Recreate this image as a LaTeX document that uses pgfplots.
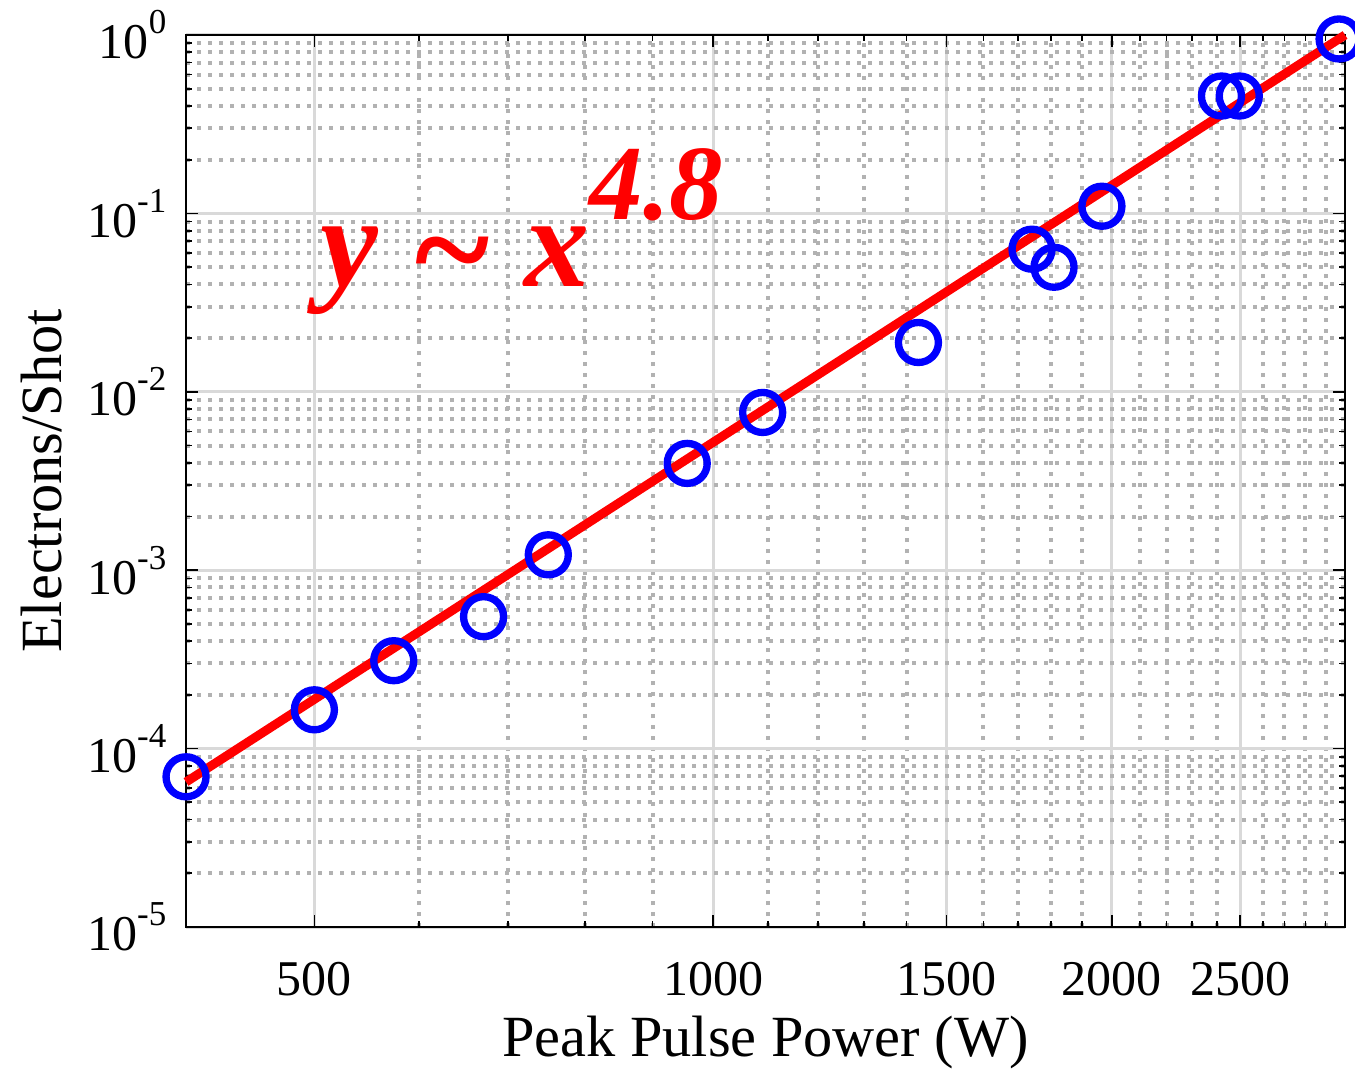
\documentclass[border=0pt]{standalone}
\usepackage{pgfplots}
\pgfplotsset{compat=1.18}
\usepackage{graphicx}
\usepackage{fontspec}
\setmainfont{Liberation Serif}

% power-of-ten tick label set in the text font
\newcommand{\dec}[1]{10\raisebox{7.5pt}{\fontsize{10.5}{10.5}\selectfont #1}}

\begin{document}
\begin{tikzpicture}
\begin{axis}[
  xmode=log, ymode=log,
  scale only axis,
  width=347.7pt, height=267.6pt,
  xmin=400, xmax=3000, ymin=1e-5, ymax=1,
  xtick={500,1000,1500,2000,2500},
  xticklabels={500,1000,1500,2000,2500},
  minor xtick={600,700,800,900,1100,1200,1300,1400,1600,1700,1800,1900,2100,2200,2300,2400,2600,2700,2800,2900},
  ytick={1e-5,1e-4,1e-3,1e-2,1e-1,1},
  yticklabels={\dec{-5},\dec{-4},\dec{-3},\dec{-2},\dec{-1},\dec{0}},
  minor ytick={2e-5,3e-5,4e-5,5e-5,6e-5,7e-5,8e-5,9e-5,
               2e-4,3e-4,4e-4,5e-4,6e-4,7e-4,8e-4,9e-4,
               2e-3,3e-3,4e-3,5e-3,6e-3,7e-3,8e-3,9e-3,
               2e-2,3e-2,4e-2,5e-2,6e-2,7e-2,8e-2,9e-2,
               0.2,0.3,0.4,0.5,0.6,0.7,0.8,0.9},
  grid=both,
  major grid style={black!15, line width=0.9pt},
  minor grid style={black!30, line width=1.2pt, dash pattern=on 1.2pt off 2.1pt},
  tick align=inside,
  major tick length=3.6pt, minor tick length=1.8pt,
  tick style={black, line width=0.5pt},
  axis line style={black, line width=0.6pt},
  xticklabel style={font=\fontsize{15}{15}\selectfont, anchor=north, inner sep=0pt, yshift=-10.5pt},
  yticklabel style={font=\fontsize{15}{15}\selectfont, anchor=east, inner sep=0pt, xshift=-5.7pt},
  xlabel={Peak Pulse Power (W)},
  ylabel={Electrons/Shot},
  xlabel style={font=\fontsize{17.5}{17.5}\selectfont, at={(axis description cs:0.5,-0.129)}, anchor=center},
  ylabel style={font=\fontsize{17.5}{17.5}\selectfont, at={(axis description cs:-0.125,0.5)}, anchor=center},
  clip=false,
]
% measured electron yield
\addplot[only marks, mark=o, mark size=6pt, blue, mark options={line width=2.2pt}]
  coordinates {
  (400,6.95e-5) (500,1.65e-4) (574,3.11e-4) (671,5.49e-4) (751,1.22e-3)
  (956,3.97e-3) (1090,7.66e-3) (1429,0.0189) (1741,0.0630) (1809,0.0499)
  (1966,0.1097) (2420,0.455) (2496,0.455) (2969,0.95)
  };
% power-law fit, slope 4.8
\addplot[red, line width=2.7pt] coordinates {(400,6.5e-5) (3000,1.0)};
\node[anchor=base west, inner sep=0pt, text=red,
      font=\fontsize{39}{39}\selectfont\bfseries\itshape]
  at (rel axis cs:0.1156,0.7183)
  {y \raisebox{-3.5pt}{\scalebox{1.1}{\textasciitilde}} x\raisebox{20.1pt}{\fontsize{32}{32}\selectfont 4.8}};
\coordinate (sw) at (rel axis cs:0,0);
\coordinate (ne) at (rel axis cs:1,1);
\end{axis}
\pgfresetboundingbox
\path[use as bounding box] ([xshift=-55.8pt,yshift=-43.2pt]sw) rectangle ([xshift=3pt,yshift=10.5pt]ne);
\end{tikzpicture}
\end{document}
